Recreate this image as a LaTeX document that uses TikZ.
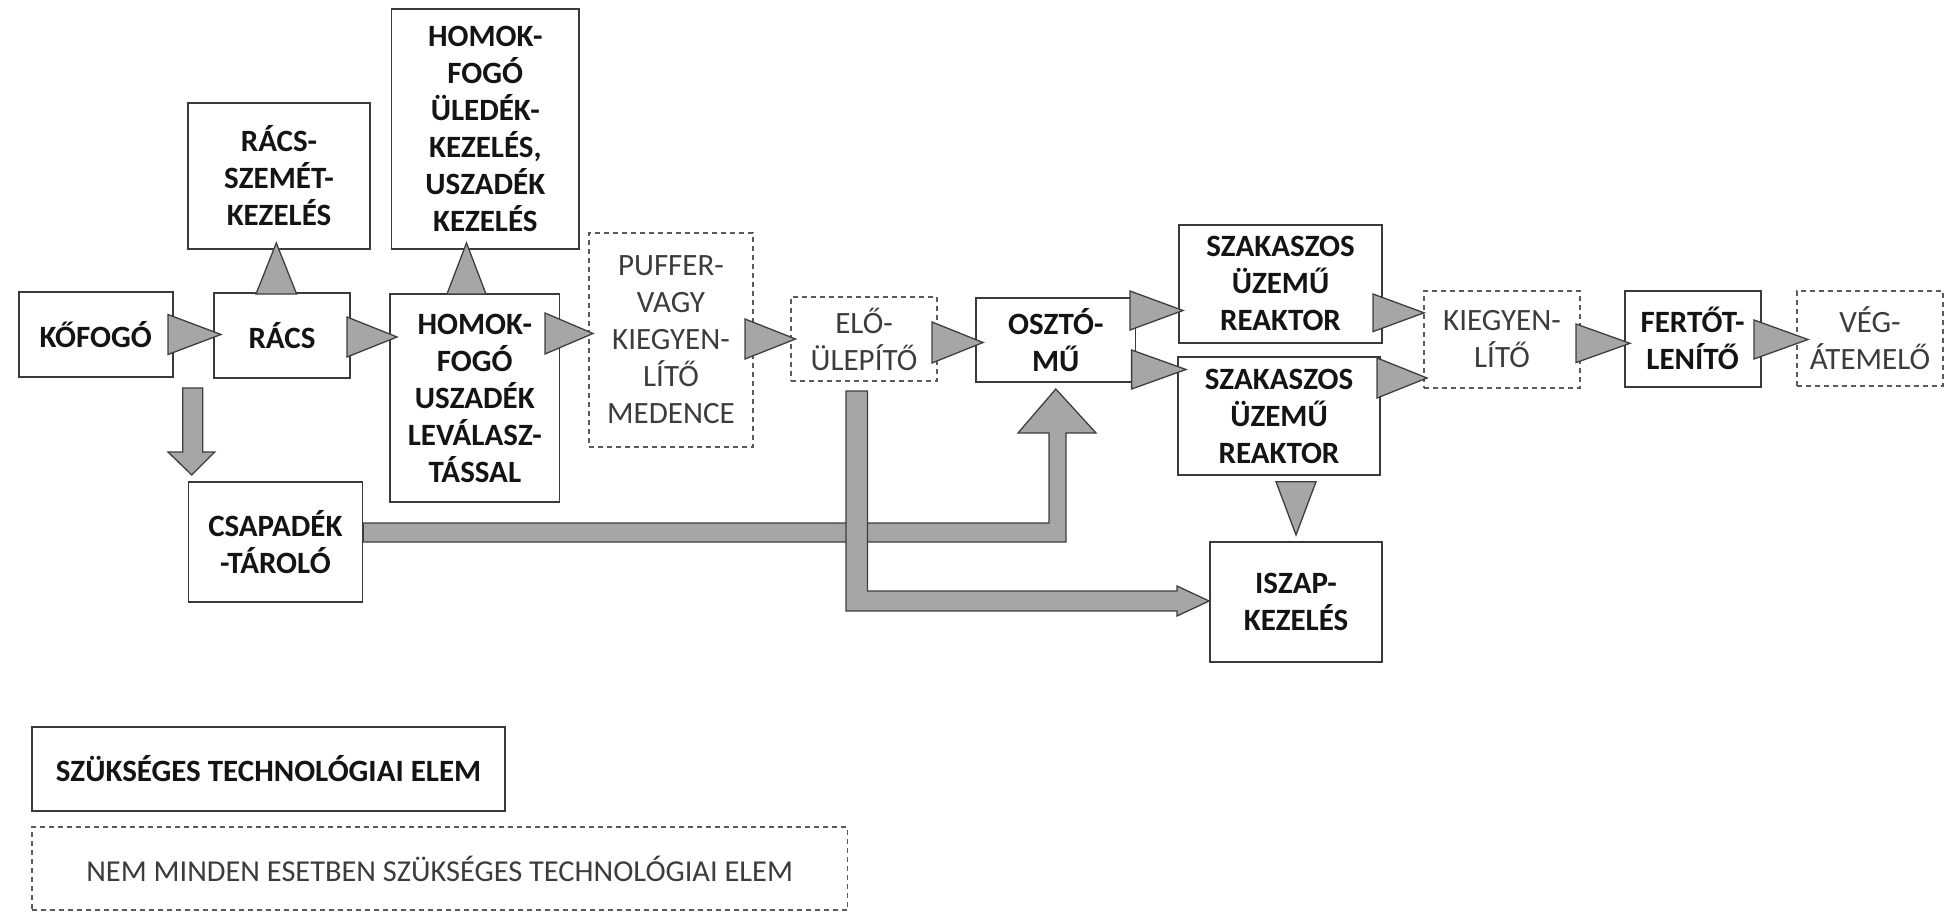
\documentclass[tikz,border=0pt]{standalone}
\usepackage{fontspec}
\setmainfont{Carlito}
\definecolor{boxc}{HTML}{3A3A3A}
\definecolor{dashc}{HTML}{5A5A5A}
\definecolor{txtc}{HTML}{141414}
\definecolor{dtxt}{HTML}{3C3C3C}
\definecolor{arrfill}{HTML}{A7A5A6}
\definecolor{arrline}{HTML}{3E3E3E}
\begin{document}
\begin{tikzpicture}[x=1pt,y=-1pt,
  box/.style={draw=boxc, line width=1.8pt, fill=white, inner sep=0pt, align=center,
    font=\bfseries\fontsize{31}{37}\selectfont, text=txtc},
  dbox/.style={draw=dashc, line width=1.4pt, dash pattern=on 5pt off 4pt, fill=white,
    inner sep=0pt, align=center, font=\fontsize{31}{37}\selectfont, text=dtxt},
  tri/.style={fill=arrfill, draw=arrline, line width=1.3pt, line join=miter}]
\useasboundingbox (0,0) rectangle (1946,912);

% boxes
\node[box, minimum width=154pt, minimum height=85pt] (kofogo) at (95.7,334.5) {KŐFOGÓ};
\node[box, minimum width=136pt, minimum height=85pt] (racs) at (282,335.5) {RÁCS};
\node[box, minimum width=182pt, minimum height=146pt] (racsszemet) at (279,176) {RÁCS-\\SZEMÉT-\\KEZELÉS};
\node[box, minimum width=187.5pt, minimum height=240pt] (homokuledek) at (485.3,129) {HOMOK-\\FOGÓ\\ÜLEDÉK-\\KEZELÉS,\\USZADÉK\\KEZELÉS};
\node[box, minimum width=169.5pt, minimum height=208pt] (homok) at (474.8,398) {HOMOK-\\FOGÓ\\USZADÉK\\LEVÁLASZ-\\TÁSSAL};
\node[dbox, minimum width=164pt, minimum height=214pt] (puffer) at (671,340) {PUFFER-\\VAGY\\KIEGYEN-\\LÍTŐ\\MEDENCE};
\node[dbox, minimum width=146pt, minimum height=84pt] (elo) at (864,339) {ELŐ-\\ÜLEPÍTŐ};
\node[box, minimum width=159.5pt, minimum height=84pt] (oszto) at (1055.8,340) {OSZTÓ-\\MŰ};
\node[box, minimum width=203pt, minimum height=117.7pt] (szak1) at (1280.5,283.8) {SZAKASZOS\\ÜZEMŰ\\REAKTOR};
\node[box, minimum width=202pt, minimum height=118pt] (szak2) at (1279,416) {SZAKASZOS\\ÜZEMŰ\\REAKTOR};
\node[dbox, minimum width=156pt, minimum height=97pt] (kieg) at (1502,339.5) {KIEGYEN-\\LÍTŐ};
\node[box, minimum width=136pt, minimum height=95.7pt] (fert) at (1692.6,338.8) {FERTŐT-\\LENÍTŐ};
\node[dbox, minimum width=146pt, minimum height=95pt] (veg) at (1870,338.5) {VÉG-\\ÁTEMELŐ};
\node[box, minimum width=174pt, minimum height=120pt] (csapadek) at (275.4,542) {CSAPADÉK\\-TÁROLÓ};
\node[box, minimum width=172pt, minimum height=120pt] (iszap) at (1296,602) {ISZAP-\\KEZELÉS};

% legend
\node[box, font=\bfseries\fontsize{31}{37}\selectfont, minimum width=473pt, minimum height=84pt] (leg1) at (268.5,769) {SZÜKSÉGES TECHNOLÓGIAI ELEM};
\node[dbox, font=\fontsize{30.4}{36}\selectfont, minimum width=815.5pt, minimum height=83pt] (leg2) at (439.7,868.5) {NEM MINDEN ESETBEN SZÜKSÉGES TECHNOLÓGIAI ELEM};

% wide block arrows
\draw[tri] (csapadek.east |- 0,523) -- (1049,523) -- (1049,433) -- (1018,433) -- (oszto.south |- 0,389)
  -- (1096,433) -- (1066,433) -- (1066,542) -- (csapadek.east |- 0,542) -- cycle;
\draw[tri] (846,391) -- (867.5,391) -- (867.5,591) -- (1177,591) -- (1177,586) -- (iszap.west |- 0,601)
  -- (1177,616) -- (1177,611) -- (846,611) -- cycle;
\draw[tri] (182.7,388) -- (202.8,388) -- (202.8,452) -- (214.7,452) -- (191.8,475) -- (168,452)
  -- (182.7,452) -- cycle;

% triangles
\newcommand\htri[4]{\draw[tri] (#1,#3-#4) -- (#2,#3) -- (#1,#3+#4) -- cycle;}
\newcommand\vtri[4]{\draw[tri] (#3-#4,#1) -- (#3,#2) -- (#3+#4,#1) -- cycle;}
\htri{168}{221}{334.5}{20}
\htri{347}{397}{337}{20}
\htri{545}{593}{333.5}{20.5}
\htri{745}{795.5}{339}{20}
\htri{932}{983}{342.5}{20.5}
\htri{1130}{1183}{310.5}{19.5}
\htri{1131.6}{1186}{369.5}{19.5}
\htri{1373}{1424}{312.8}{18.8}
\htri{1377}{1427}{378}{20}
\htri{1576}{1630}{343.3}{19.3}
\htri{1754}{1808}{339.5}{19.5}
\vtri{294}{243}{276.3}{20.3}
\vtri{294}{243}{466.5}{19.5}
\vtri{481.7}{535}{1296}{20}
\end{tikzpicture}
\end{document}
